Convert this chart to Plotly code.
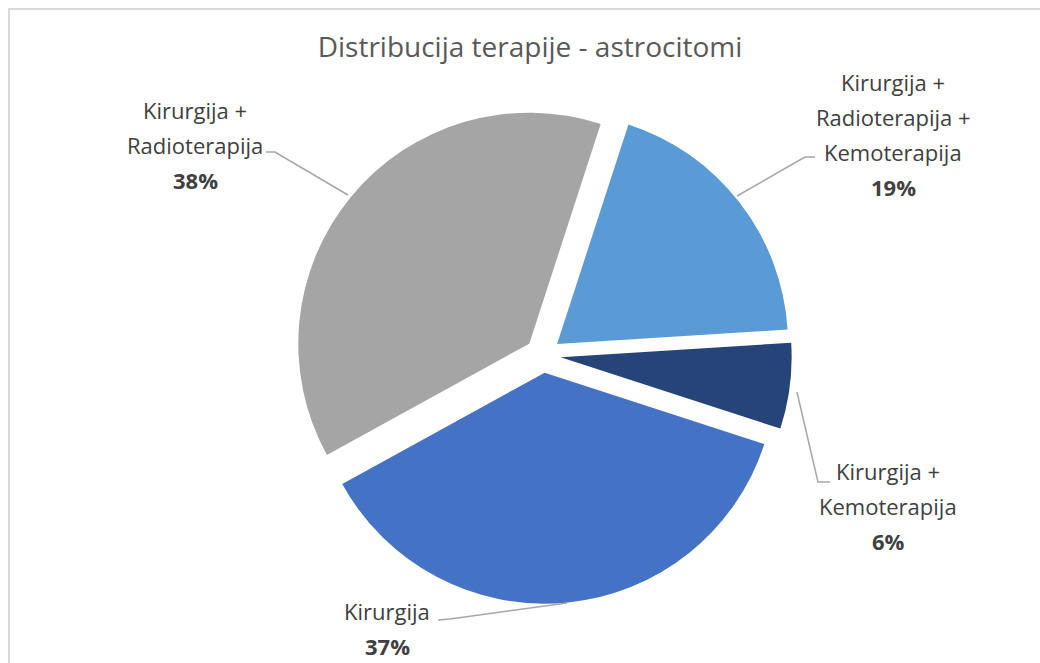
import plotly.graph_objects as go

# data (share of patients, %)
labels = ["Kirurgija + Radioterapija + Kemoterapija", "Kirurgija + Kemoterapija",
          "Kirurgija", "Kirurgija + Radioterapija"]
label_lines = [["Kirurgija +", "Radioterapija +", "Kemoterapija"],
               ["Kirurgija +", "Kemoterapija"],
               ["Kirurgija"],
               ["Kirurgija +", "Radioterapija"]]
values = [19, 6, 37, 38]
colors = ["#5B9BD5", "#264478", "#4472C4", "#A5A5A5"]

W, H = 1040, 663
cx, cy, r, pull = 543, 355, 231, 0.077
R = r * (1 + pull)

fig = go.Figure(go.Pie(
    labels=labels, values=values, sort=False, direction="clockwise", rotation=18,
    pull=[pull] * len(values), textinfo="none", hoverinfo="label+percent",
    marker=dict(colors=colors, line=dict(width=0)),
    domain=dict(x=[(cx - R) / W, (cx + R) / W], y=[(H - cy - R) / H, (H - cy + R) / H]),
    showlegend=False,
))

# label placement (pixel centre x, first-line y) and leader lines
label_pos = [(893, 82), (888, 471), (387, 611), (195, 110)]
line_gap = 35
leaders = [[(737, 196), (805, 157), (815, 157)],
           [(797, 392), (818, 482), (830, 482)],
           [(567, 603), (450, 619), (438, 620)],
           [(348, 195), (275, 152), (266, 152)]]

total = sum(values)
ann = []
for lines, v, (px_, py_) in zip(label_lines, values, label_pos):
    rows = lines + ["<b>%.0f%%</b>" % (v / total * 100)]
    for i, t in enumerate(rows):
        ann.append(dict(text=t, x=px_ / W, y=1 - (py_ + i * line_gap) / H,
                        xref="paper", yref="paper", showarrow=False,
                        xanchor="center", yanchor="middle",
                        font=dict(size=22, color="#404040")))

shapes = []
for pts in leaders:
    path = "M " + " L ".join("%.4f,%.4f" % (x / W, 1 - y / H) for x, y in pts)
    shapes.append(dict(type="path", path=path, xref="paper", yref="paper",
                       line=dict(color="#A6A6A6", width=1.5)))
# chart border
shapes.append(dict(type="rect", xref="paper", yref="paper", x0=9 / W, y0=-0.1, x1=1.1, y1=1 - 9 / H,
                   line=dict(color="#D9D9D9", width=2)))

fig.update_layout(
    width=W, height=H, margin=dict(l=0, r=0, t=0, b=0),
    paper_bgcolor="white", plot_bgcolor="white",
    font=dict(family="Open Sans, sans-serif", color="#404040"),
    title=dict(text="Distribucija terapije - astrocitomi", x=530 / W, xanchor="center",
               y=1 - 47 / H, yanchor="middle", font=dict(size=28, color="#595959")),
    annotations=ann, shapes=shapes,
)

fig.write_html("out.html", config={"displayModeBar": False},
               post_script="document.body.style.margin='0';document.body.style.overflow='hidden';")
